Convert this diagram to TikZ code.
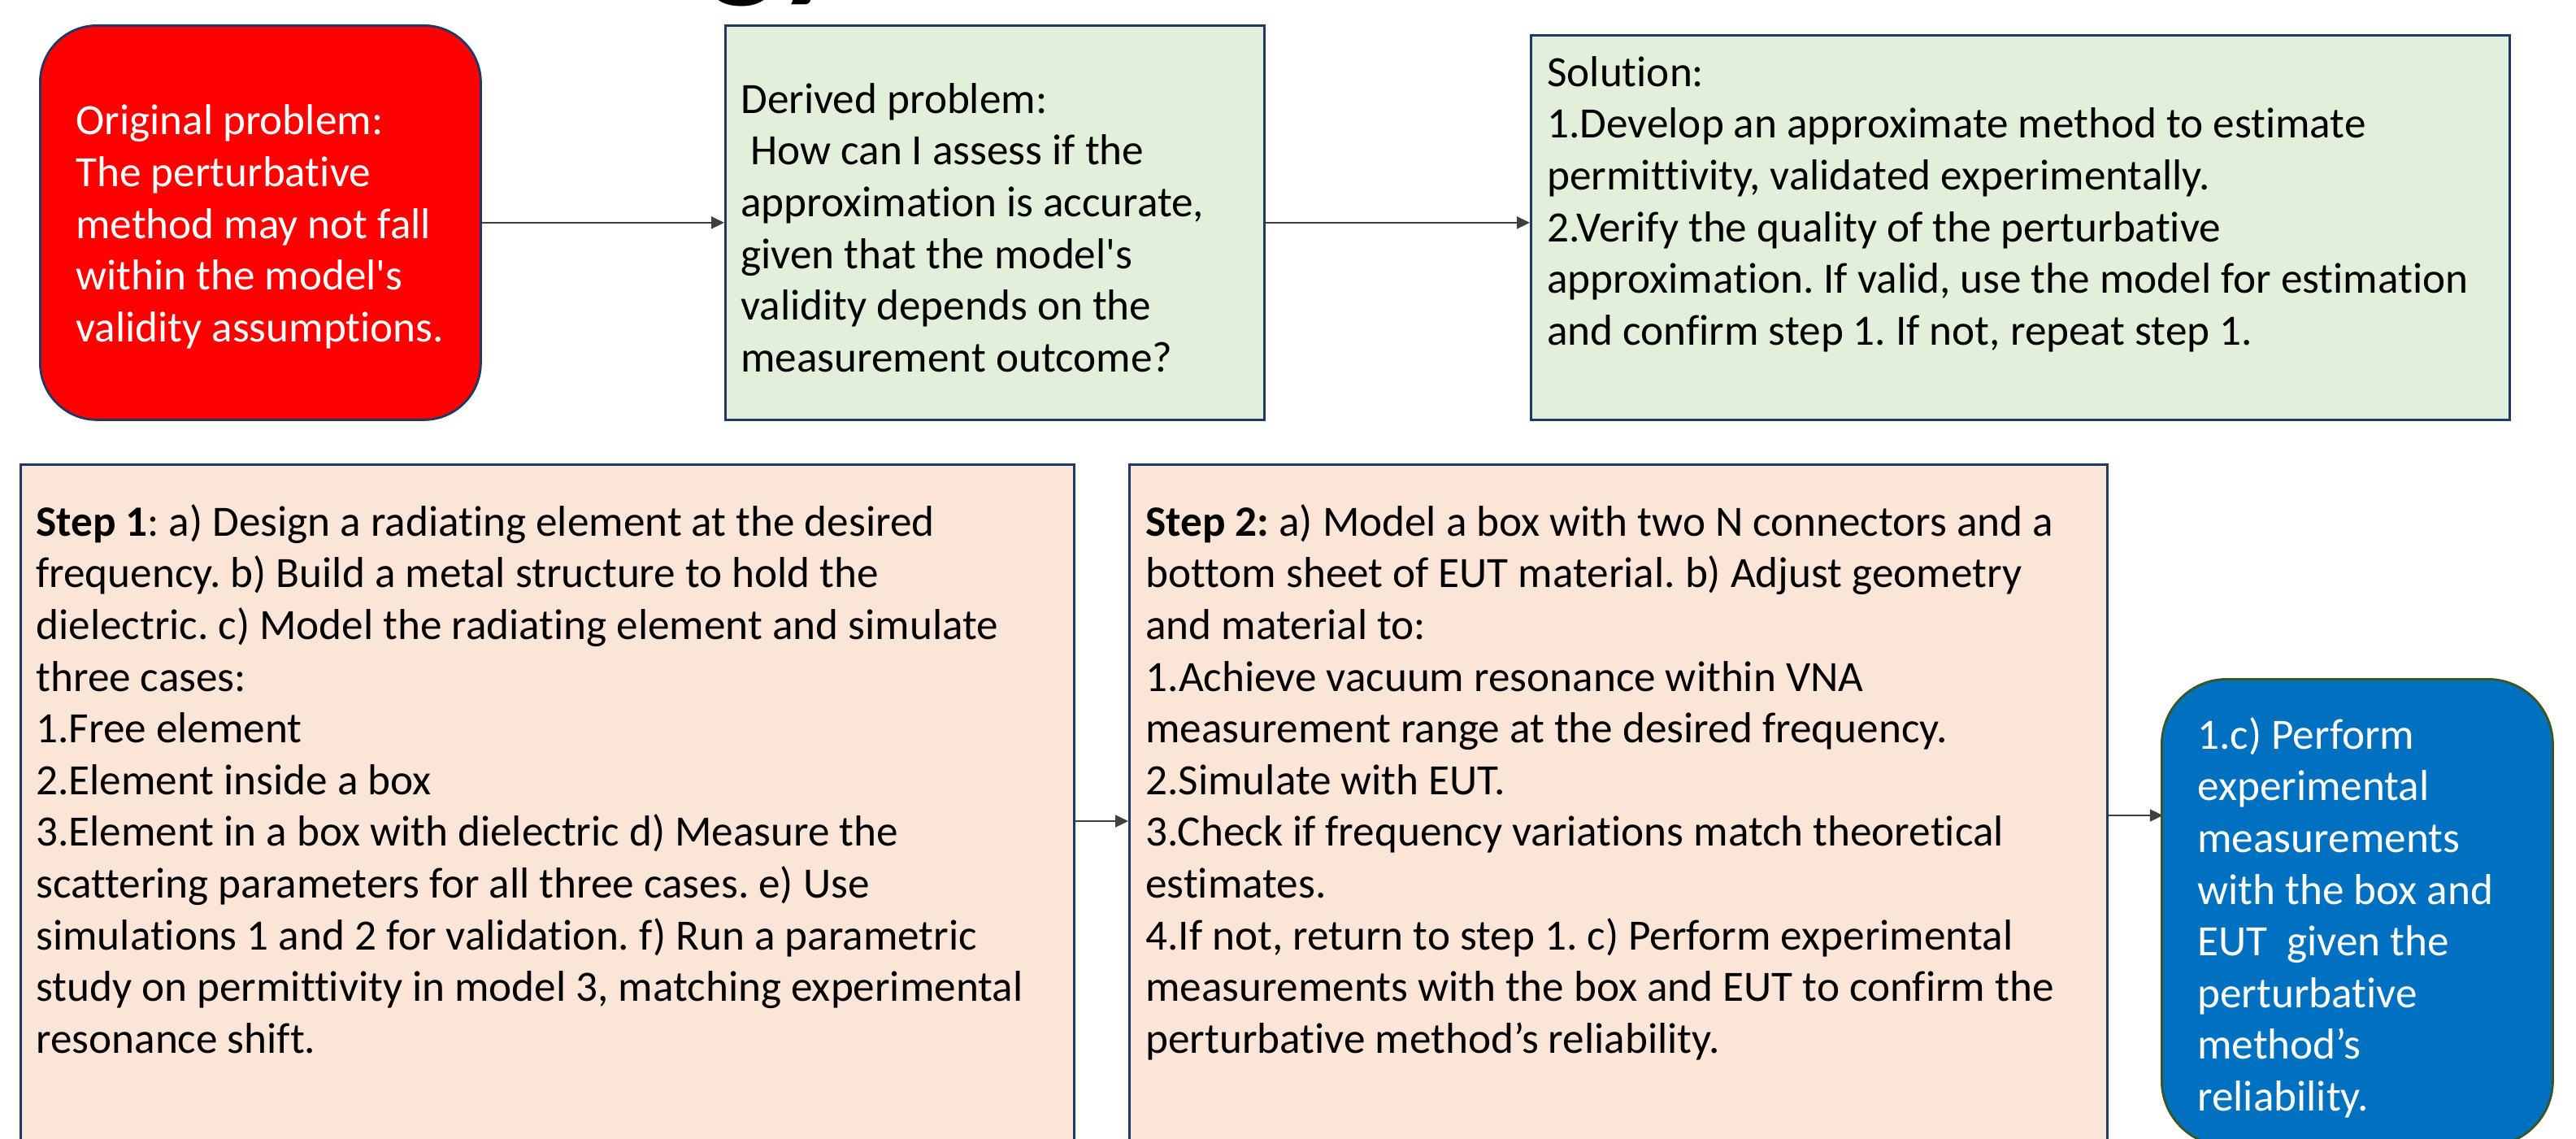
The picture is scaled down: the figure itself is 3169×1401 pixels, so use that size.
\documentclass[tikz,border=0pt]{standalone}
\usepackage{fontspec}
\setmainfont{Carlito}[Ligatures={TeXOff,NoCommon}]
\usetikzlibrary{arrows.meta,calc}
\definecolor{navy}{HTML}{203864}
\definecolor{boxgreen}{HTML}{E2EFDA}
\definecolor{peach}{HTML}{FBE5D6}
\definecolor{pptblue}{HTML}{0070C0}
\definecolor{olive}{HTML}{385723}
\definecolor{conngray}{HTML}{404040}
\newcommand{\bodyfont}{\fontsize{26.6}{31.8}\selectfont\frenchspacing}
\tikzset{
  box/.style={draw=navy, line width=1.4pt, inner sep=0pt, anchor=north west},
  txt/.style={inner sep=0pt, align=left, font=\bodyfont, text=black},
  conn/.style={draw=conngray, line width=1pt, -{Triangle[length=8pt,width=7.5pt]}}
}
\begin{document}
\begin{tikzpicture}[x=0.5pt,y=-0.5pt]
\useasboundingbox (0,0) rectangle (3169,1401);
\begin{scope}
\clip (0,0) rectangle (3169,1401);
\fill[white] (0,0) rectangle (3169,1401);
% cropped title
\node[anchor=base east, inner sep=0pt, font=\fontsize{90}{90}\selectfont\bfseries] (title) at (1042,-22) {Methodology};
% boxes
\node[box, fill=red, rounded corners=35pt, minimum width=271pt, minimum height=242.5pt] (red) at (48,30) {};
\node[box, fill=boxgreen, minimum width=331.5pt, minimum height=242.5pt] (g1) at (891,30) {};
\node[box, fill=boxgreen, minimum width=602pt, minimum height=236.5pt] (g2) at (1882,42) {};
\node[box, fill=peach, minimum width=648pt, minimum height=430pt] (s1) at (24,570) {};
\node[box, fill=peach, minimum width=601.5pt, minimum height=430pt] (s2) at (1388,570) {};
\node[box, draw=olive, fill=pptblue, rounded corners=40pt, minimum width=240.5pt, minimum height=287pt] (bl) at (2658,834) {};
% texts
\node[txt, text=white, anchor=west] (redt) at (93,279) {Original problem:\\The perturbative\\method may not fall\\within the model's\\validity assumptions.};
\node[txt, anchor=west] (g1t) at (911,280) {Derived problem:\\\ How can I assess if the\\approximation is accurate,\\given that the model's\\validity depends on the\\measurement outcome?};
\node[txt, anchor=north west] (g2t) at (1903,69) {Solution:\\1.Develop an approximate method to estimate\\permittivity, validated experimentally.\\2.Verify the quality of the perturbative\\approximation. If valid, use the model for estimation\\and confirm step 1. If not, repeat step 1.};
\node[txt, anchor=north west] (s1t) at (44,620) {\textbf{Step 1}: a) Design a radiating element at the desired\\frequency. b) Build a metal structure to hold the\\dielectric. c) Model the radiating element and simulate\\three cases:\\1.Free element\\2.Element inside a box\\3.Element in a box with dielectric d) Measure the\\scattering parameters for all three cases. e) Use\\simulations 1 and 2 for validation. f) Run a parametric\\study on permittivity in model 3, matching experimental\\resonance shift.};
\node[txt, anchor=north west] (s2t) at (1409,620) {\textbf{Step 2:} a) Model a box with two N connectors and a\\bottom sheet of EUT material. b) Adjust geometry\\and material to:\\1.Achieve vacuum resonance within VNA\\measurement range at the desired frequency.\\2.Simulate with EUT.\\3.Check if frequency variations match theoretical\\estimates.\\4.If not, return to step 1. c) Perform experimental\\measurements with the box and EUT to confirm the\\perturbative method’s reliability.};
\node[txt, text=white, anchor=north west] (blt) at (2703,882) {1.c) Perform\\experimental\\measurements\\with the box and\\EUT\ \ given the\\perturbative\\method’s\\reliability.};
% connectors
\draw[conn] (red.east) -- (g1.west);
\draw[conn] (g1.east) -- (g1.east -| g2.west);
\draw[conn] ($(s1.north east)+(0,440)$) -- ($(s2.north west)+(0,440)$);
\draw[conn] ($(s2.north east)+(0,433)$) -- ($(s2.north east)+(67,433)$);
\end{scope}
\end{tikzpicture}
\end{document}
